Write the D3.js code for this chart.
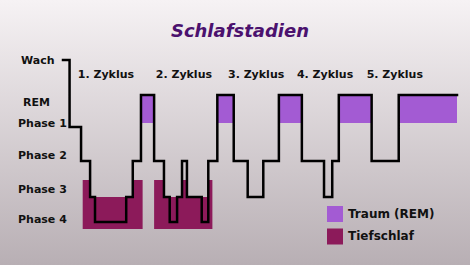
<!DOCTYPE html>
<html>
<head>
<meta charset="utf-8">
<script src="https://cdn.jsdelivr.net/npm/d3@7"></script>
<style>
  html, body { margin: 0; padding: 0; background: #e6e0e3; }
  svg { display: block; }
  text { font-family: "DejaVu Sans", Verdana, sans-serif; font-weight: bold; }
</style>
</head>
<body>
<svg id="chart" width="470" height="265"></svg>
<script>
// Sleep stages from lightest to deepest
const stages = ["Wach", "REM", "Phase 1", "Phase 2", "Phase 3", "Phase 4"];

// Hypnogram: minute at which each stage begins
const hypnoTimes = [0, 8, 22, 33, 39, 77, 85, 95, 111, 123, 130, 139, 145, 151,
  169, 177, 188, 208, 225, 244, 263, 291, 318, 328, 336, 376, 409, 480];
const hypnoStages = ["Wach", "Phase 1", "Phase 2", "Phase 3", "Phase 4", "Phase 3",
  "Phase 2", "REM", "Phase 2", "Phase 3", "Phase 4", "Phase 3", "Phase 2", "Phase 3",
  "Phase 4", "Phase 2", "REM", "Phase 2", "Phase 3", "Phase 2", "REM", "Phase 2",
  "Phase 3", "Phase 2", "REM", "Phase 2", "REM", "REM"];

// Deep-sleep (Tiefschlaf) periods, minutes
const deepStart = [24, 111];
const deepEnd = [97, 182];

// Cycle labels and the minute where each label begins
const cycleLabels = ["1. Zyklus", "2. Zyklus", "3. Zyklus", "4. Zyklus", "5. Zyklus"];
const cycleLabelTimes = [18, 113, 201, 285, 370];

const legendLabels = ["Traum (REM)", "Tiefschlaf"];
const titleText = "Schlafstadien";

const remColor = "#a35bd3";
const deepColor = "#8c1a5a";

const W = 470, H = 265;
const svg = d3.select("#chart");

// Background
const defs = svg.append("defs");
const bg = defs.append("linearGradient").attr("id", "bg")
  .attr("x1", 0).attr("y1", 0).attr("x2", 0).attr("y2", 1);
bg.append("stop").attr("offset", "0%").attr("stop-color", "#f6f2f4");
bg.append("stop").attr("offset", "100%").attr("stop-color", "#b8afb4");
svg.append("rect").attr("width", W).attr("height", H).attr("fill", "url(#bg)");

// Scales
const x = d3.scaleLinear().domain([0, 480]).range([63, 457]);
const y = d3.scaleOrdinal().domain(stages).range([60, 95, 127, 161, 197, 222]);
const yLabel = d3.scaleOrdinal().domain(stages).range([64, 106, 127, 159, 193, 223]);
const labelIndent = { "Wach": 3, "REM": 5 };

const points = hypnoTimes.map((t, i) => ({ t, s: hypnoStages[i] }));

// REM fills: one per REM segment of the hypnogram
const remSegments = [];
points.forEach((p, i) => {
  if (p.s === "REM" && i < points.length - 1) {
    const last = remSegments[remSegments.length - 1];
    if (last && last.end === p.t) last.end = points[i + 1].t;
    else remSegments.push({ start: p.t, end: points[i + 1].t });
  }
});
svg.append("g").selectAll("rect").data(remSegments).join("rect")
  .attr("x", d => x(d.start))
  .attr("width", d => x(d.end) - x(d.start))
  .attr("y", y("REM"))
  .attr("height", y("Phase 1") - 4 - y("REM"))
  .attr("fill", remColor);

// Deep sleep: shaded below the curve, and everywhere from Phase 3 downward
const clip = defs.append("clipPath").attr("id", "deepClip");
clip.append("path")
  .attr("d", d3.area().curve(d3.curveStepAfter)
    .x(d => x(d.t)).y0(H).y1(d => y(d.s))(points));
clip.append("rect").attr("x", 0).attr("y", y("Phase 3"))
  .attr("width", W).attr("height", H - y("Phase 3"));

svg.append("g").attr("clip-path", "url(#deepClip)")
  .selectAll("rect").data(deepStart.map((s, i) => ({ start: s, end: deepEnd[i] })))
  .join("rect")
  .attr("x", d => x(d.start))
  .attr("width", d => x(d.end) - x(d.start))
  .attr("y", y("Phase 3") - 17)
  .attr("height", y("Phase 4") + 7 - (y("Phase 3") - 17))
  .attr("fill", deepColor);

// Hypnogram line
svg.append("path")
  .attr("d", d3.line().curve(d3.curveStepAfter).x(d => x(d.t)).y(d => y(d.s))(points))
  .attr("fill", "none")
  .attr("stroke", "#000")
  .attr("stroke-width", 2.5)
  .attr("stroke-linejoin", "miter")
  .attr("stroke-linecap", "square");

// Stage labels
svg.append("g").selectAll("text").data(stages).join("text")
  .attr("x", d => 18 + (labelIndent[d] || 0))
  .attr("y", d => yLabel(d))
  .attr("font-size", 11)
  .attr("fill", "#111")
  .text(d => d);

// Cycle labels
svg.append("g").selectAll("text").data(cycleLabels).join("text")
  .attr("x", (d, i) => x(cycleLabelTimes[i]))
  .attr("y", 78)
  .attr("font-size", 11)
  .attr("fill", "#111")
  .text(d => d);

// Title
svg.append("text")
  .attr("x", 240).attr("y", 37)
  .attr("text-anchor", "middle")
  .attr("font-size", 18)
  .attr("font-style", "italic")
  .attr("fill", "#4b116e")
  .text(titleText);

// Legend
const legend = svg.append("g").attr("transform", "translate(327,206)");
const items = legend.selectAll("g").data(legendLabels).join("g")
  .attr("transform", (d, i) => `translate(0,${i * 22.5})`);
items.append("rect").attr("width", 16).attr("height", 16)
  .attr("fill", (d, i) => i === 0 ? remColor : deepColor);
items.append("text").attr("x", 21).attr("y", 11.5)
  .attr("font-size", 12).attr("fill", "#111")
  .text(d => d);
</script>
</body>
</html>
